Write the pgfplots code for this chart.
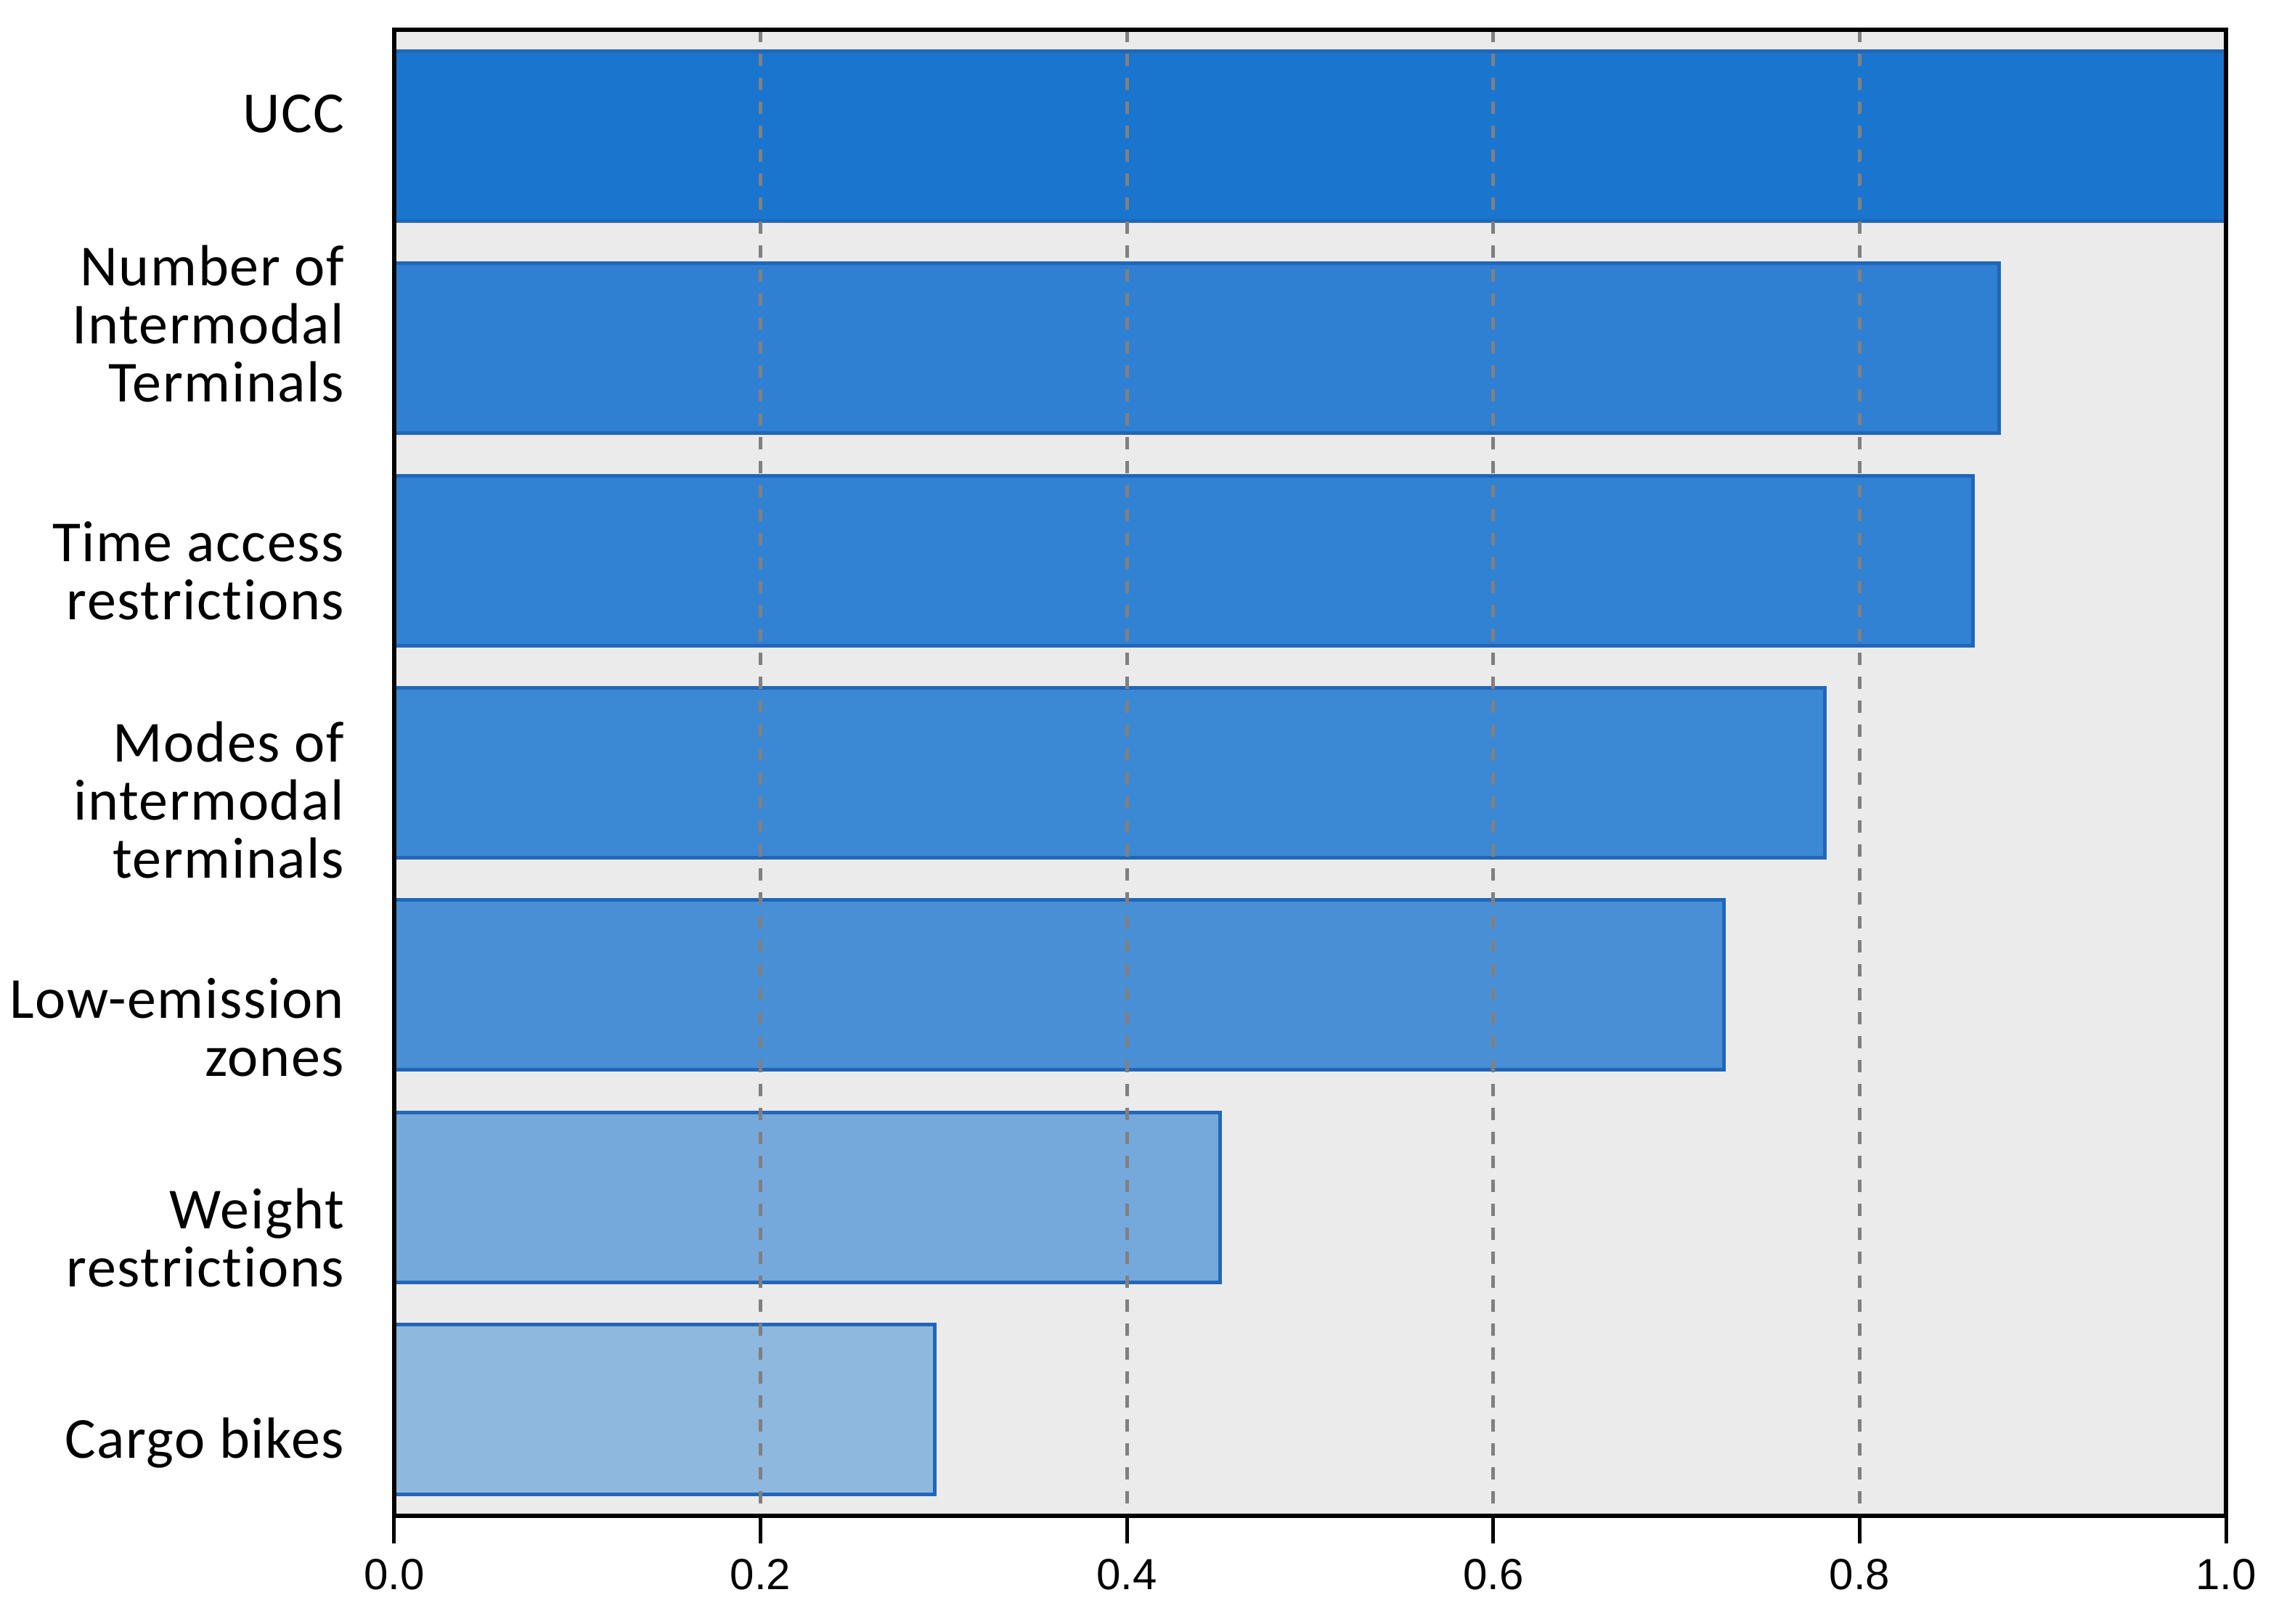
\documentclass[border=0pt]{standalone}
\usepackage{fontspec}
\setmainfont{Carlito}[LetterSpace=2, Ligatures=NoCommon]
\newfontfamily\tickfont{Liberation Sans}
\usepackage{pgfplots}
\pgfplotsset{compat=1.18}

\definecolor{bgray}{HTML}{EBEBEB}
\definecolor{edgeblue}{HTML}{2266B8}
\definecolor{gridgray}{HTML}{808080}
\definecolor{c1}{HTML}{1A75CF}
\definecolor{c2}{HTML}{2F80D2}
\definecolor{c3}{HTML}{3182D3}
\definecolor{c4}{HTML}{3B88D5}
\definecolor{c5}{HTML}{498FD6}
\definecolor{c6}{HTML}{76A9DB}
\definecolor{c7}{HTML}{8FB8DF}

\begin{document}
\begin{tikzpicture}
\begin{axis}[
    scale only axis,
    width=252.3pt, height=204.7pt,
    xmin=0, xmax=1,
    ymin=-0.5, ymax=6.5,
    y dir=reverse,
    axis background/.style={fill=bgray},
    axis on top,
    axis line style={line width=0.6pt, black},
    xtick={0,0.2,...,1.0},
    xticklabel style={font=\tickfont\fontsize{6}{6}\selectfont, inner sep=0pt, yshift=-2pt},
    /pgf/number format/assume math mode=true,
    /pgf/number format/.cd, fixed, fixed zerofill, precision=1, /pgfplots/.cd,
    tick align=outside,
    major tick length=3.8pt,
    x tick style={line width=0.5pt, black},
    xtick pos=bottom,
    ytick={0,...,6},
    y tick style={draw=none},
    yticklabels={UCC, {Number of\\Intermodal\\Terminals}, {Time access\\restrictions},
      {Modes of\\intermodal\\terminals}, {Low-emission\\zones}, {Weight\\restrictions},
      {Cargo bikes}},
    yticklabel style={align=right, font=\fontsize{8}{8}\selectfont, inner sep=0pt,
      xshift=-2.9pt, yshift={{3.0,3.4,-1.4,-3.8,-5.8,-5.6,-4.6}[\ticknum]}},
    xmajorgrids,
    grid style={gridgray, line width=0.5pt, dash pattern=on 1.7pt off 1.6pt},
    every axis plot/.append style={xbar, bar shift=0pt, bar width=0.8, draw=edgeblue, line width=0.5pt},
]
\addplot[fill=c1] coordinates {(1.000,0)};
\addplot[fill=c2] coordinates {(0.876,1)};
\addplot[fill=c3] coordinates {(0.862,2)};
\addplot[fill=c4] coordinates {(0.781,3)};
\addplot[fill=c5] coordinates {(0.726,4)};
\addplot[fill=c6] coordinates {(0.451,5)};
\addplot[fill=c7] coordinates {(0.295,6)};
\end{axis}
\pgfresetboundingbox
\path ([shift={(-54.3pt,-14.9pt)}]current axis.south west) rectangle ([shift={(6.2pt,4.1pt)}]current axis.north east);
\end{tikzpicture}
\end{document}
